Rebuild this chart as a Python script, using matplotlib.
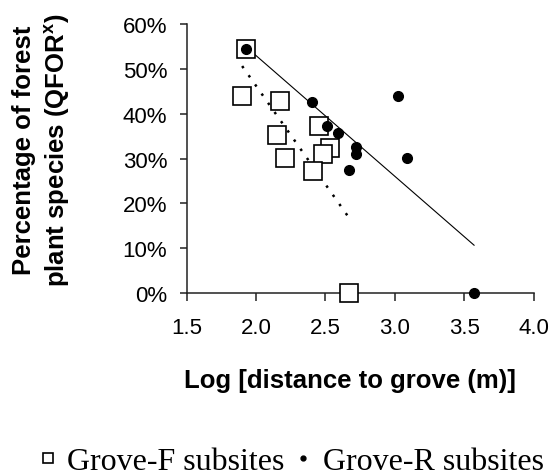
import numpy as np
import matplotlib
matplotlib.use("Agg")
import matplotlib.pyplot as plt
from matplotlib.ticker import PercentFormatter, MultipleLocator

# Data (log distance to grove, share of forest plant species)
grove_f_x = [1.93, 1.90, 2.17, 2.15, 2.21, 2.45, 2.53, 2.48, 2.41, 2.67]
grove_f_y = [0.545, 0.440, 0.429, 0.353, 0.301, 0.373, 0.323, 0.310, 0.273, 0.0]
grove_r_x = [1.93, 2.40, 3.02, 2.51, 2.59, 2.72, 2.72, 2.67, 3.09, 3.57]
grove_r_y = [0.545, 0.426, 0.440, 0.373, 0.356, 0.325, 0.310, 0.275, 0.301, 0.0]

x_ticks = [1.5, 2.0, 2.5, 3.0, 3.5, 4.0]
series_labels = ["Grove-F subsites", "Grove-R subsites"]

plt.rcParams['mathtext.default'] = 'regular'

W, H = 552, 477
fig = plt.figure(figsize=(W / 100, H / 100), dpi=100)
ax = fig.add_axes([0.338, 0.3836, 0.629, 0.564])

# trend lines (least squares over each series' range)
fx = np.array(grove_f_x); fy = np.array(grove_f_y)
rx = np.array(grove_r_x); ry = np.array(grove_r_y)
pf = np.polyfit(fx, fy, 1)
pr = np.polyfit(rx, ry, 1)
xf = np.array([fx.min(), fx.max()])
xr = np.array([rx.min(), rx.max()])
ax.plot(xf, np.polyval(pf, xf), color='black', lw=1.8, linestyle=(0, (1.0, 3.5)), zorder=2)
ax.plot(xr, np.polyval(pr, xr), color='black', lw=0.8, zorder=2)

hf, = ax.plot(grove_f_x, grove_f_y, 's', ms=13, mfc='white', mec='black', mew=1.2,
              label=series_labels[0], zorder=3, clip_on=False)
hr, = ax.plot(grove_r_x, grove_r_y, 'o', ms=7, mfc='black', mec='black',
              label=series_labels[1], zorder=4, clip_on=False)

ax.set_xlim(1.5, 4.0)
ax.set_ylim(0, 0.6)
ax.set_xticks(x_ticks)
ax.set_xticklabels([f"{t:.1f}" for t in x_ticks])
ax.yaxis.set_major_locator(MultipleLocator(0.1))
ax.yaxis.set_major_formatter(PercentFormatter(1.0, decimals=0))

for s in ['top', 'right']:
    ax.spines[s].set_visible(False)
for s in ['left', 'bottom']:
    ax.spines[s].set_linewidth(1.1)
    ax.spines[s].set_color('#222222')

ax.tick_params(axis='both', direction='out', width=1.1, color='#222222',
               labelsize=16, labelcolor='black')
ax.tick_params(axis='x', length=6, pad=11)
ax.tick_params(axis='y', length=5, pad=9)
for lab in ax.get_xticklabels() + ax.get_yticklabels():
    lab.set_family('Liberation Sans')

fig.text(350 / W, 1 - 381 / H, "Log [distance to grove (m)]", fontsize=18.5,
         fontweight='bold', family='Liberation Sans', ha='center', va='center')
fig.text(42 / W, 1 - 150 / H, "Percentage of forest\nplant species (QFOR$^{x}$)",
         fontsize=18.5, fontweight='bold', family='Liberation Sans', rotation=90,
         ha='center', va='center', multialignment='center', linespacing=1.35)

fig.legend(handles=[hf, hr], loc='center', bbox_to_anchor=(0.527, 0.031), ncol=2,
           frameon=False, markerscale=0.5, handlelength=0.6, handletextpad=0.3,
           columnspacing=0.3, prop={'family': 'Liberation Serif', 'size': 23})

fig.savefig("out.png", dpi=100)
